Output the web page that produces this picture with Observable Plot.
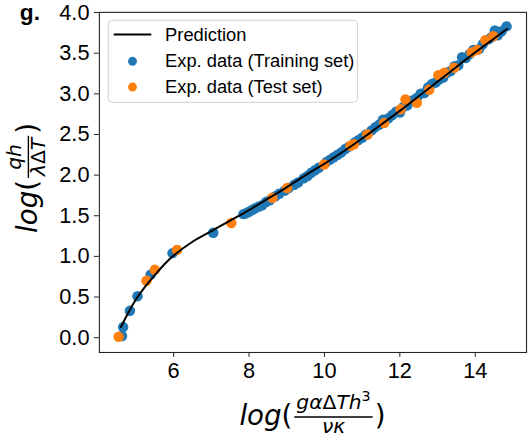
<!DOCTYPE html>
<html>
<head>
<meta charset="utf-8">
<script src="https://cdn.jsdelivr.net/npm/d3@7"></script>
<script src="https://cdn.jsdelivr.net/npm/@observablehq/plot@0.6"></script>
<style>
  html, body { margin: 0; padding: 0; overflow: hidden; background: white; }
  #chart { width: 528px; height: 444px; overflow: hidden; }
</style>
</head>
<body>
<div id="chart"></div>
<script>
// ---- data ----
const trainX = [4.63,4.66,4.84,5.04,5.39,5.97,7.05,7.85,7.92,8.0,8.08,8.15,8.25,8.35,8.45,8.55,8.7,8.8,8.95,9.05,9.2,9.3,9.45,9.55,9.65,9.75,9.85,10.05,10.15,10.25,10.35,10.45,10.55,10.65,10.8,10.9,11.0,11.1,11.25,11.35,11.45,11.55,11.7,11.8,11.9,12.0,12.1,12.2,12.35,12.45,12.55,12.65,12.75,12.85,12.95,13.05,13.15,13.25,13.35,13.45,13.55,13.65,13.75,13.85,13.95,14.1,14.2,14.35,14.44,14.52,14.6,14.7,14.83];
const trainY = [0.02,0.13,0.33,0.51,0.775,1.04,1.29,1.52,1.53,1.55,1.57,1.59,1.61,1.63,1.67,1.69,1.74,1.77,1.81,1.84,1.88,1.91,1.96,1.99,2.03,2.06,2.09,2.16,2.19,2.22,2.25,2.28,2.32,2.35,2.40,2.43,2.46,2.50,2.55,2.59,2.62,2.68,2.70,2.74,2.78,2.77,2.84,2.86,2.92,2.95,3.00,3.01,3.08,3.12,3.14,3.18,3.20,3.26,3.28,3.34,3.35,3.45,3.44,3.49,3.54,3.55,3.61,3.67,3.70,3.78,3.72,3.77,3.83];
const testX = [4.54,5.28,5.50,6.09,7.53,8.62,9.01,9.99,10.69,10.78,11.14,11.58,12.02,12.15,12.45,12.78,13.02,13.18,13.44,13.9,14.05,14.27,14.48];
const testY = [0.01,0.70,0.835,1.08,1.41,1.72,1.84,2.13,2.36,2.38,2.50,2.64,2.81,2.93,2.89,3.05,3.23,3.26,3.32,3.51,3.54,3.66,3.71];
const predX = [4.6,4.8,5.0,5.25,5.5,5.75,6.0,6.5,7.0,7.5,8.0,8.5,9.0,9.5,10.0,10.5,11.0,11.5,12.0,12.5,13.0,13.5,14.0,14.5,14.85];
const predY = [0.13,0.31,0.47,0.63,0.77,0.90,1.01,1.18,1.31,1.44,1.57,1.71,1.85,2.00,2.14,2.29,2.45,2.62,2.79,2.97,3.15,3.33,3.51,3.68,3.80];
const xTicks = [6, 8, 10, 12, 14];
const yTicks = [0, 0.5, 1.0, 1.5, 2.0, 2.5, 3.0, 3.5, 4.0];
const legendLabels = ["Prediction", "Exp. data (Training set)", "Exp. data (Test set)"];
const colors = {train: "#1f77b4", test: "#ff7f0e", pred: "#000000"};
const panelLabel = "g.";

const train = trainX.map((x, i) => ({x, y: trainY[i]}));
const test = testX.map((x, i) => ({x, y: testY[i]}));
const pred = predX.map((x, i) => ({x, y: predY[i]}));

const W = 534, H = 444, mL = 100, mR = 2, mT = 12, mB = 88;
const SANS = "'Liberation Sans', Arial, sans-serif";

const chart = Plot.plot({
  width: W, height: H,
  marginLeft: mL, marginRight: mR, marginTop: mT, marginBottom: mB,
  x: {domain: [4.03, 15.36]},
  y: {domain: [-0.1825, 4.0025]},
  style: {fontFamily: SANS, fontSize: "22px", color: "#000", background: "white", overflow: "visible"},
  marks: [
    Plot.dot(train, {x: "x", y: "y", r: 5.3, fill: colors.train}),
    Plot.dot(test, {x: "x", y: "y", r: 5.3, fill: colors.test}),
    Plot.line(pred, {x: "x", y: "y", stroke: colors.pred, strokeWidth: 2, curve: "natural"}),
    Plot.frame({stroke: "#222", strokeWidth: 1.1}),
    Plot.axisX({ticks: xTicks, tickSize: 5, tickPadding: 5, label: null, tickFormat: d => String(d), stroke: "#222"}),
    Plot.axisY({ticks: yTicks, tickSize: 5, tickPadding: 5, label: null, tickFormat: d3.format(".1f"), stroke: "#222"})
  ]
});
document.getElementById("chart").appendChild(chart);

const svg = d3.select(chart);
const MF = "'DejaVu Sans', sans-serif";

// panel label
svg.append("text").attr("x", 20).attr("y", 20).attr("text-anchor", "start")
  .attr("font-family", SANS).attr("font-weight", "bold")
  .attr("font-size", 23).text(panelLabel);

// legend
const lg = svg.append("g").attr("text-anchor", "start");
lg.append("rect").attr("x", 109.5).attr("y", 20.5).attr("width", 252).attr("height", 83)
  .attr("rx", 4).attr("fill", "white").attr("fill-opacity", 0.85).attr("stroke", "#d0d0d0");
lg.append("line").attr("x1", 115).attr("x2", 153).attr("y1", 35).attr("y2", 35)
  .attr("stroke", colors.pred).attr("stroke-width", 2);
lg.append("circle").attr("cx", 134).attr("cy", 62).attr("r", 4.5).attr("fill", colors.train);
lg.append("circle").attr("cx", 134).attr("cy", 88).attr("r", 4.5).attr("fill", colors.test);
[41.5, 68, 94].forEach((yy, i) => {
  lg.append("text").attr("x", 167).attr("y", yy)
    .attr("font-family", SANS).attr("font-size", 18.5)
    .text(legendLabels[i]);
});

// math labels: log( num / den )
function mathLabel(g, numParts, denParts) {
  const big = 28, small = 20.5;
  g.attr("text-anchor", "start");
  const logT = g.append("text").attr("x", 0).attr("y", 0).attr("font-family", MF).attr("font-style", "italic")
    .attr("font-size", big).text("log");
  const wl = logT.node().getComputedTextLength();
  const par = g.append("text").attr("x", wl).attr("y", 0).attr("font-family", MF).attr("font-size", big).text("(");
  const wp = par.node().getComputedTextLength();
  const addParts = (parts, yy) => {
    const t = g.append("text").attr("y", yy).attr("font-family", MF).attr("font-size", small);
    parts.forEach(p => {
      const s = t.append("tspan").text(p.t);
      if (p.it) s.attr("font-style", "italic");
      if (p.sup) s.attr("font-size", 14.5).attr("dy", -8);
    });
    return t;
  };
  const num = addParts(numParts, -16);
  const den = addParts(denParts, 8);
  const wn = num.node().getComputedTextLength();
  const wd = den.node().getComputedTextLength();
  const bw = Math.max(wn, wd) + 4;
  const x0 = wl + wp + 2;
  num.attr("x", x0 + (bw - wn) / 2);
  den.attr("x", x0 + (bw - wd) / 2);
  g.append("line").attr("x1", x0).attr("x2", x0 + bw).attr("y1", -8.3).attr("y2", -8.3)
    .attr("stroke", "#000").attr("stroke-width", 1.4);
  const cp = g.append("text").attr("x", x0 + bw + 2).attr("y", 0).attr("font-family", MF).attr("font-size", big).text(")");
  return x0 + bw + 2 + cp.node().getComputedTextLength();
}

const plotCx = (mL + (W - mR)) / 2;
const plotCy = (mT + (H - mB)) / 2;

const gx = svg.append("g");
const wx = mathLabel(gx,
  [{t: "gα", it: true}, {t: "Δ"}, {t: "Th", it: true}, {t: "3", sup: true}],
  [{t: "νκ", it: true}]);
gx.attr("transform", `translate(${plotCx - wx / 2},430)`);

const gy = svg.append("g");
const wy = mathLabel(gy,
  [{t: "qh", it: true}],
  [{t: "λ", it: true}, {t: "Δ"}, {t: "T", it: true}]);
gy.attr("transform", `translate(37,${plotCy - 4 + wy / 2}) rotate(-90)`);
</script>
</body>
</html>
